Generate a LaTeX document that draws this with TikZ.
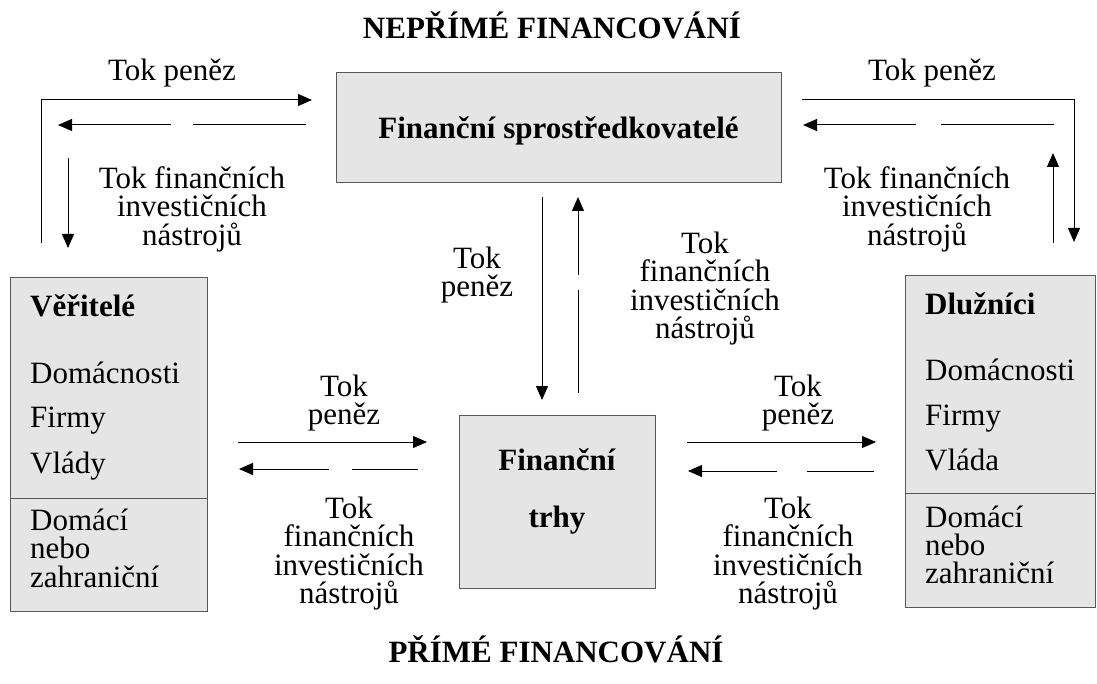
\documentclass[tikz,border=0pt]{standalone}
\usepackage{fontspec}
\setmainfont{Liberation Serif}
\usetikzlibrary{arrows.meta}
\tikzset{
 arr/.style={-{Triangle[length=14pt,width=12pt]}, line width=1pt},
 seg/.style={line width=1pt},
 box/.style={draw=black!65, fill=black!10, line width=1pt, inner sep=0pt},
 lab/.style={font=\fontsize{31}{28.5}\selectfont, align=center, anchor=north, inner sep=0pt},
 itm/.style={font=\fontsize{31}{28.5}\selectfont, anchor=base west, inner sep=0pt},
 bitm/.style={font=\bfseries\fontsize{31}{28.5}\selectfont, anchor=base west, inner sep=0pt},
 ctr/.style={font=\bfseries\fontsize{31}{31}\selectfont, anchor=base, inner sep=0pt},
}
\newcommand\sst{\rule{0pt}{24pt}}
\begin{document}
\begin{tikzpicture}[x=1pt,y=-1pt]
\useasboundingbox (0,0) rectangle (1097,684);

% titles
\node[ctr] (t1) at (552,39) {NEPŘÍMÉ FINANCOVÁNÍ};
\node[ctr] (t2) at (556,662) {PŘÍMÉ FINANCOVÁNÍ};

% boxes
\node[box, minimum width=445pt, minimum height=110pt] (fs) at (558.5,128) {};
\node[ctr] (fstext) at (558.5,139) {Finanční sprostředkovatelé};

\node[box, minimum width=196pt, minimum height=173pt] (ft) at (557,501.5) {};
\node[ctr] (ft1) at (557,470) {Finanční};
\node[ctr] (ft2) at (557,527) {trhy};

\node[box, minimum width=197pt, minimum height=333pt] (ver) at (108.5,444.5) {};
\draw[draw=black!65, line width=1pt] (ver.west |- 0,498) -- (ver.east |- 0,498);
\node[bitm] (v0) at (30,317) {Věřitelé};
\node[itm] (v1) at (30,383) {Domácnosti};
\node[itm] (v2) at (30,427) {Firmy};
\node[itm] (v3) at (30,473) {Vlády};
\node[itm] (v4) at (30,530) {Domácí};
\node[itm] (v5) at (30,558) {nebo};
\node[itm] (v6) at (30,587) {zahraniční};

\node[box, minimum width=190pt, minimum height=331pt] (dl) at (1000,441.5) {};
\draw[draw=black!65, line width=1pt] (dl.west |- 0,493) -- (dl.east |- 0,493);
\node[bitm] (d0) at (925,315) {Dlužníci};
\node[itm] (d1) at (925,380) {Domácnosti};
\node[itm] (d2) at (925,425) {Firmy};
\node[itm] (d3) at (925,470) {Vláda};
\node[itm] (d4) at (925,527) {Domácí};
\node[itm] (d5) at (925,555) {nebo};
\node[itm] (d6) at (925,583) {zahraniční};

% labels
\node[lab] (l1) at (172,56) {\sst Tok peněz};
\node[lab] (l2) at (192,164) {\sst Tok finančních\\investičních\\nástrojů};
\node[lab] (l3) at (932,56) {\sst Tok peněz};
\node[lab] (l4) at (917,164) {\sst Tok finančních\\investičních\\nástrojů};
\node[lab] (l5) at (477,244) {\sst Tok\\peněz};
\node[lab] (l6) at (705,229) {\sst Tok\\finančních\\investičních\\nástrojů};
\node[lab] (l7) at (344,372) {\sst Tok\\peněz};
\node[lab] (l8) at (349,494) {\sst Tok\\finančních\\investičních\\nástrojů};
\node[lab] (l9) at (798,372) {\sst Tok\\peněz};
\node[lab] (l10) at (788,494) {\sst Tok\\finančních\\investičních\\nástrojů};

% coordinates
\coordinate (a1) at (41,243); \coordinate (a2) at (41,100); \coordinate (a3) at (312,100);
\coordinate (b1) at (306,125); \coordinate (b2) at (193,125); \coordinate (b3) at (171,125); \coordinate (b4) at (58,125);
\coordinate (c1) at (68,158); \coordinate (c2) at (68,248);

\coordinate (e1) at (802,100); \coordinate (e2) at (1074,100); \coordinate (e3) at (1074,242);
\coordinate (f1) at (1054,125); \coordinate (f2) at (941,125); \coordinate (f3) at (916,125); \coordinate (f4) at (803,125);
\coordinate (g1) at (1053,243); \coordinate (g2) at (1053,153);

\coordinate (h1) at (542,197); \coordinate (h2) at (542,400);
\coordinate (k1) at (578,393); \coordinate (k2) at (578,290); \coordinate (k3) at (578,275); \coordinate (k4) at (578,197);

\coordinate (m1) at (238,442); \coordinate (m2) at (427,442);
\coordinate (n1) at (418,469); \coordinate (n2) at (352,469); \coordinate (n3) at (329,469); \coordinate (n4) at (239,469);

\coordinate (p1) at (687,442); \coordinate (p2) at (876,442);
\coordinate (q1) at (874,471); \coordinate (q2) at (807,471); \coordinate (q3) at (777,471); \coordinate (q4) at (688,471);

% connectors
\draw[arr] (a1) -- (a2) -- (a3);
\draw[seg] (b1) -- (b2);
\draw[arr] (b3) -- (b4);
\draw[arr] (c1) -- (c2);

\draw[arr] (e1) -- (e2) -- (e3);
\draw[seg] (f1) -- (f2);
\draw[arr] (f3) -- (f4);
\draw[arr] (g1) -- (g2);

\draw[arr] (h1) -- (h2);
\draw[seg] (k1) -- (k2);
\draw[arr] (k3) -- (k4);

\draw[arr] (m1) -- (m2);
\draw[seg] (n1) -- (n2);
\draw[arr] (n3) -- (n4);

\draw[arr] (p1) -- (p2);
\draw[seg] (q1) -- (q2);
\draw[arr] (q3) -- (q4);
\end{tikzpicture}
\end{document}
